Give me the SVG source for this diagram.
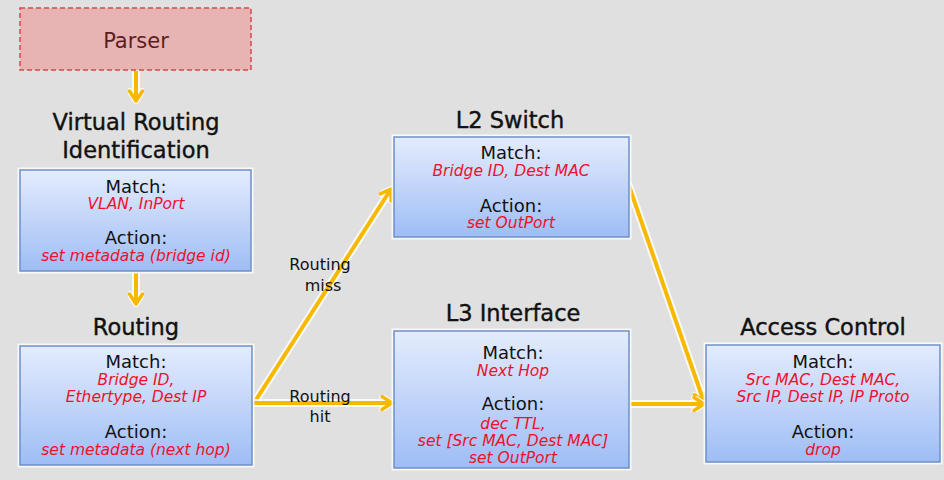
<svg xmlns="http://www.w3.org/2000/svg" width="944" height="480" viewBox="0 0 944 480">
<defs>
<linearGradient id="bg" x1="0" y1="0" x2="0" y2="1">
<stop offset="0" stop-color="#e4ecfd"/>
<stop offset="1" stop-color="#9ebdf5"/>
</linearGradient>
<marker id="ah" viewBox="0 0 16 16" refX="13" refY="8" markerWidth="16" markerHeight="16" markerUnits="userSpaceOnUse" orient="auto">
<path d="M3,1.5 L13,8 L3,14.5" fill="none" stroke="#f7b900" stroke-width="3.5" stroke-linecap="round" stroke-linejoin="round"/>
</marker>
<marker id="ahw" viewBox="0 0 16 16" refX="13" refY="8" markerWidth="16" markerHeight="16" markerUnits="userSpaceOnUse" orient="auto">
<path d="M3,1.5 L13,8 L3,14.5" fill="none" stroke="#ffffff" stroke-opacity="0.8" stroke-width="6" stroke-linecap="round" stroke-linejoin="round"/>
</marker>
</defs>
<style>
.title{font-family:"DejaVu Sans",Verdana,sans-serif;font-size:22.5px;fill:#111;text-anchor:middle;stroke:#111;stroke-width:0.4}
.k{font-family:"DejaVu Sans",Verdana,sans-serif;font-size:18px;fill:#111;text-anchor:middle}
.v{font-family:"DejaVu Sans",Verdana,sans-serif;font-size:15.5px;font-style:italic;fill:#f0102a;text-anchor:middle}
.lbl{font-family:"DejaVu Sans",Verdana,sans-serif;font-size:16px;fill:#111;text-anchor:middle}
.box{fill:url(#bg);stroke:#6d90c6;stroke-width:1.5}
.glow{fill:none;stroke:#ffffff;stroke-width:5;stroke-opacity:0.8}
.wire{fill:none;stroke:#f7b900;stroke-width:4}
.wireg{fill:none;stroke:#ffffff;stroke-opacity:0.8;stroke-width:8}
</style>
<rect width="944" height="480" fill="#e0e0e0"/>

<g id="connectors">
<line class="wireg" x1="136" y1="71" x2="136" y2="101" marker-end="url(#ahw)"/>
<line class="wire" x1="136" y1="71" x2="136" y2="101" marker-end="url(#ah)"/>
<line class="wireg" x1="136" y1="273" x2="136" y2="304" marker-end="url(#ahw)"/>
<line class="wire" x1="136" y1="273" x2="136" y2="304" marker-end="url(#ah)"/>
<line class="wireg" x1="254" y1="403" x2="391" y2="189" marker-end="url(#ahw)"/>
<line class="wire" x1="254" y1="403" x2="391" y2="189" marker-end="url(#ah)"/>
<line class="wireg" x1="254" y1="403" x2="392" y2="403" marker-end="url(#ahw)"/>
<line class="wire" x1="254" y1="403" x2="392" y2="403" marker-end="url(#ah)"/>
<line class="wireg" x1="628" y1="183" x2="704" y2="402" marker-end="url(#ahw)"/>
<line class="wire" x1="628" y1="183" x2="704" y2="402" marker-end="url(#ah)"/>
<line class="wireg" x1="630" y1="404" x2="704" y2="404" marker-end="url(#ahw)"/>
<line class="wire" x1="630" y1="404" x2="704" y2="404" marker-end="url(#ah)"/>
<text class="lbl" x="320" y="270">Routing</text>
<text class="lbl" x="323" y="291">miss</text>
<text class="lbl" x="320" y="402">Routing</text>
<text class="lbl" x="320" y="422">hit</text>
</g>

<g id="parser">
<rect x="20" y="8" width="231" height="62" fill="#e8b4b3" stroke="#d2494b" stroke-width="1.5" stroke-dasharray="5,3"/>
<text x="136" y="48" font-family="'DejaVu Sans',Verdana,sans-serif" font-size="21" fill="#5a1e1e" text-anchor="middle">Parser</text>
</g>

<g id="vri">
<text class="title" x="136" y="130">Virtual Routing</text>
<text class="title" x="136" y="158">Identification</text>
<rect class="glow" x="20" y="170" width="231" height="101"/>
<rect class="box" x="20" y="170" width="231" height="101"/>
<text class="k" x="136" y="193">Match:</text>
<text class="v" x="136" y="209">VLAN, InPort</text>
<text class="k" x="136" y="244">Action:</text>
<text class="v" x="136" y="261">set metadata (bridge id)</text>
</g>

<g id="routing">
<text class="title" x="136" y="335">Routing</text>
<rect class="glow" x="20" y="346" width="232" height="119"/>
<rect class="box" x="20" y="346" width="232" height="119"/>
<text class="k" x="136" y="368">Match:</text>
<text class="v" x="136" y="385">Bridge ID,</text>
<text class="v" x="136" y="402">Ethertype, Dest IP</text>
<text class="k" x="136" y="438">Action:</text>
<text class="v" x="136" y="455">set metadata (next hop)</text>
</g>

<g id="l2switch">
<text class="title" x="510" y="128">L2 Switch</text>
<rect class="glow" x="394" y="137" width="235" height="100"/>
<rect class="box" x="394" y="137" width="235" height="100"/>
<text class="k" x="511" y="159">Match:</text>
<text class="v" x="511" y="176">Bridge ID, Dest MAC</text>
<text class="k" x="511" y="212">Action:</text>
<text class="v" x="511" y="228">set OutPort</text>
</g>

<g id="l3interface">
<text class="title" x="513" y="321">L3 Interface</text>
<rect class="glow" x="394" y="331" width="235" height="137"/>
<rect class="box" x="394" y="331" width="235" height="137"/>
<text class="k" x="513" y="359">Match:</text>
<text class="v" x="513" y="376">Next Hop</text>
<text class="k" x="513" y="410">Action:</text>
<text class="v" x="513" y="428.5">dec TTL,</text>
<text class="v" x="513" y="446">set [Src MAC, Dest MAC]</text>
<text class="v" x="513" y="463">set OutPort</text>
</g>

<g id="accesscontrol">
<text class="title" x="823" y="335">Access Control</text>
<rect class="glow" x="706" y="345" width="234" height="117"/>
<rect class="box" x="706" y="345" width="234" height="117"/>
<text class="k" x="823" y="368">Match:</text>
<text class="v" x="823" y="385">Src MAC, Dest MAC,</text>
<text class="v" x="823" y="402">Src IP, Dest IP, IP Proto</text>
<text class="k" x="823" y="438">Action:</text>
<text class="v" x="823" y="455">drop</text>
</g>
</svg>
